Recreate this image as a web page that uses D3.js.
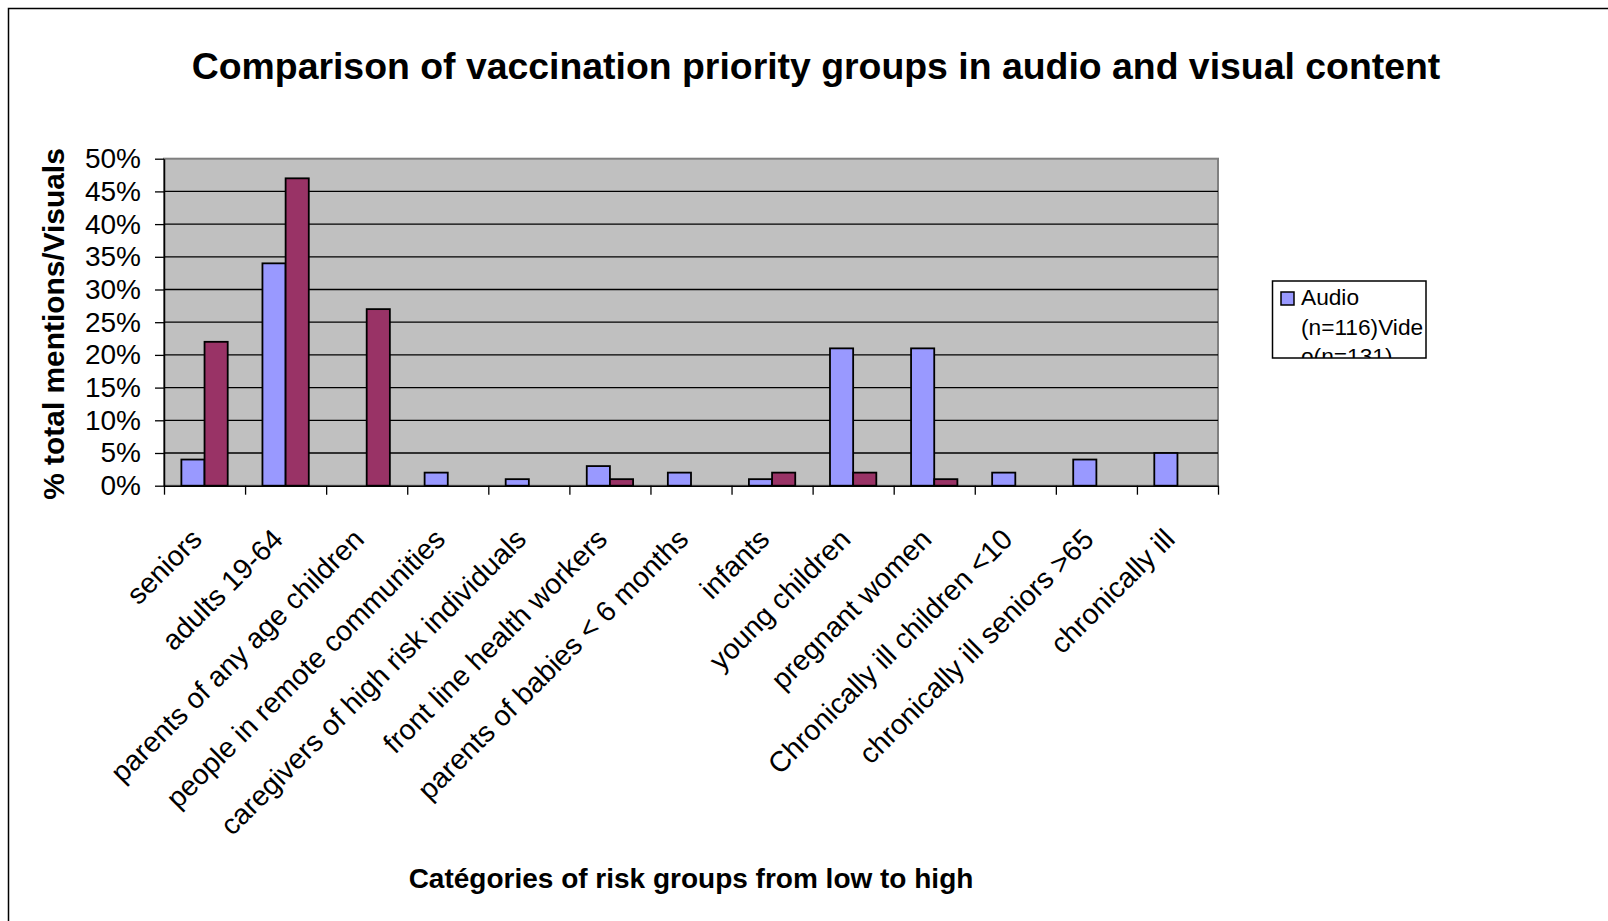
<!DOCTYPE html>
<html>
<head>
<meta charset="utf-8">
<script src="https://cdn.jsdelivr.net/npm/d3@7"></script>
<style>
  body { margin: 0; background: #fff; }
  svg { display: block; font-family: "Liberation Sans", Arial, sans-serif; }
</style>
</head>
<body>
<div id="chart"></div>
<script>
// data (percent of mentions)
const categories = ["seniors", "adults 19-64", "parents of any age children",
  "people in remote communities", "caregivers of high risk individuals",
  "front line health workers", "parents of babies < 6 months", "infants",
  "young children", "pregnant women", "Chronically ill children <10",
  "chronically ill seniors >65", "chronically ill"];
const audio = [4, 34, 0, 2, 1, 3, 2, 1, 21, 21, 2, 4, 5];
const video = [22, 47, 27, 0, 0, 1, 0, 2, 2, 1, 0, 0, 0];
const yTicks = [0, 5, 10, 15, 20, 25, 30, 35, 40, 45, 50];
const seriesKeys = ["audio", "video"];
const legendLines = ["Audio", "(n=116)Vide", "o(n=131)"];

const W = 1608, H = 921;
const plot = {left: 164, right: 1218, top: 158.7, bottom: 485.7};
const colors = {audio: "#9999FF", video: "#993366"};

const svg = d3.select("#chart").append("svg")
  .attr("width", W)
  .attr("height", H);

// outer frame (runs off the right and bottom edges, as in the source)
svg.append("rect")
  .attr("x", 8.5).attr("y", 8.5)
  .attr("width", W + 20).attr("height", H + 20)
  .attr("fill", "none").attr("stroke", "#000").attr("stroke-width", 1.5);

// title
svg.append("text")
  .attr("x", 816).attr("y", 79)
  .attr("text-anchor", "middle")
  .attr("font-size", 37.4).attr("font-weight", "bold")
  .text("Comparison of vaccination priority groups in audio and visual content");

// scales
const x = d3.scaleBand()
  .domain(categories)
  .range([plot.left, plot.right])
  .padding(0);

const xSub = d3.scaleBand()
  .domain(seriesKeys)
  .range([0, x.bandwidth()])
  .paddingInner(0)
  .paddingOuter(0.75);

const y = d3.scaleLinear()
  .domain([0, 50])
  .range([plot.bottom, plot.top]);

// plot area
svg.append("rect")
  .attr("x", plot.left).attr("y", plot.top)
  .attr("width", plot.right - plot.left)
  .attr("height", plot.bottom - plot.top)
  .attr("fill", "#C0C0C0")
  .attr("stroke", "#808080").attr("stroke-width", 2);

// gridlines
svg.append("g")
  .selectAll("line")
  .data(yTicks.filter(d => d > 0 && d < 50))
  .enter().append("line")
    .attr("x1", plot.left).attr("x2", plot.right)
    .attr("y1", d => y(d)).attr("y2", d => y(d))
    .attr("stroke", "#000").attr("stroke-width", 1.3);

// bars
const rows = categories.map((c, i) => ({cat: c, audio: audio[i], video: video[i]}));

svg.append("g")
  .selectAll("g")
  .data(rows)
  .enter().append("g")
    .attr("transform", d => "translate(" + x(d.cat) + ",0)")
  .selectAll("rect")
  .data(d => seriesKeys.map(k => ({key: k, value: d[k]})).filter(v => v.value > 0))
  .enter().append("rect")
    .attr("x", d => xSub(d.key))
    .attr("y", d => y(d.value))
    .attr("width", xSub.bandwidth())
    .attr("height", d => y(0) - y(d.value))
    .attr("fill", d => colors[d.key])
    .attr("stroke", "#000").attr("stroke-width", 1.8);

// y axis
const yAxis = svg.append("g")
  .attr("transform", "translate(" + plot.left + ",0)")
  .call(d3.axisLeft(y)
    .tickValues(yTicks)
    .tickFormat(d => d + "%")
    .tickSize(9)
    .tickSizeOuter(0)
    .tickPadding(14));
yAxis.select(".domain").attr("stroke", "#000").attr("stroke-width", 1.5);
yAxis.selectAll(".tick line").attr("stroke", "#000").attr("stroke-width", 1.3);
yAxis.selectAll(".tick text")
  .attr("font-size", 28).attr("font-family", "Liberation Sans, Arial, sans-serif")
  .attr("fill", "#000");

// x axis: ticks sit between categories
const xEdge = d3.scaleLinear().domain([0, categories.length]).range([plot.left, plot.right]);
const xAxis = svg.append("g")
  .attr("transform", "translate(0," + plot.bottom + ")")
  .call(d3.axisBottom(xEdge)
    .tickValues(d3.range(categories.length + 1))
    .tickFormat("")
    .tickSize(9)
    .tickSizeOuter(0));
xAxis.select(".domain").attr("stroke", "#000").attr("stroke-width", 1.5);
xAxis.selectAll(".tick line").attr("stroke", "#000").attr("stroke-width", 1.3);

// rotated category labels
svg.append("g")
  .selectAll("text")
  .data(categories)
  .enter().append("text")
    .attr("transform", d => "translate(" + (x(d) + x.bandwidth() / 2 - 1) + ",541) rotate(-45)")
    .attr("text-anchor", "end")
    .attr("font-size", 28.5)
    .text(d => d);

// axis titles
svg.append("text")
  .attr("transform", "translate(64,324) rotate(-90)")
  .attr("text-anchor", "middle")
  .attr("font-size", 29.9).attr("font-weight", "bold")
  .text("% total mentions/Visuals");

svg.append("text")
  .attr("x", 691).attr("y", 888)
  .attr("text-anchor", "middle")
  .attr("font-size", 28).attr("font-weight", "bold")
  .text("Catégories of risk groups from low to high");

// legend (label wraps and is clipped by the box, as in the source)
const lg = {x: 1272.5, y: 281, w: 153.5, h: 77};
svg.append("clipPath").attr("id", "legendClip")
  .append("rect")
    .attr("x", lg.x).attr("y", lg.y)
    .attr("width", lg.w).attr("height", lg.h);

const legend = svg.append("g");
legend.append("rect")
  .attr("x", lg.x).attr("y", lg.y)
  .attr("width", lg.w).attr("height", lg.h)
  .attr("fill", "#fff").attr("stroke", "#000").attr("stroke-width", 1.5);
legend.append("rect")
  .attr("x", 1281).attr("y", 292)
  .attr("width", 13).attr("height", 13)
  .attr("fill", colors.audio).attr("stroke", "#000").attr("stroke-width", 1.5);
legend.append("g")
  .attr("clip-path", "url(#legendClip)")
  .selectAll("text")
  .data(legendLines)
  .enter().append("text")
    .attr("x", 1301)
    .attr("y", (d, i) => 305 + i * 29.5)
    .attr("font-size", 22.7)
    .text(d => d);
</script>
</body>
</html>
